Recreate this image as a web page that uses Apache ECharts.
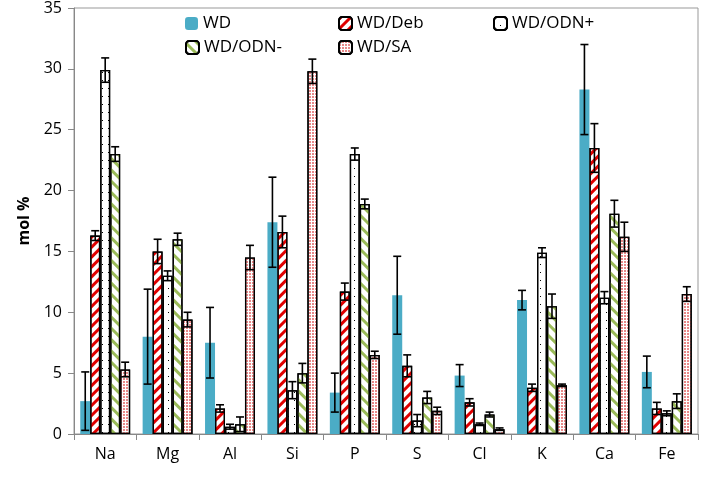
<!DOCTYPE html>
<html><head><meta charset="utf-8">
<script src="https://cdn.jsdelivr.net/npm/echarts@6/dist/echarts.min.js"></script>
<style>html,body{margin:0;background:#fff}#c{width:702px;height:477px}</style>
</head><body><div id="c"></div>
<script>
const elements = ["Na","Mg","Al","Si","P","S","Cl","K","Ca","Fe"];
const seriesNames = ["WD","WD/Deb","WD/ODN+","WD/ODN-","WD/SA"];
const wd     = [2.7, 8.0, 7.5, 17.4, 3.4, 11.4, 4.8, 11.0, 28.3, 5.1];
const wdErr  = [2.4, 3.9, 2.9, 3.7, 1.6, 3.2, 0.9, 0.8, 3.7, 1.3];
const deb    = [16.3, 15.0, 2.1, 16.6, 11.7, 5.6, 2.6, 3.8, 23.5, 2.1];
const debErr = [0.4, 1.0, 0.3, 1.3, 0.7, 0.9, 0.3, 0.3, 2.0, 0.5];
const odnP    = [29.9, 13.0, 0.6, 3.6, 23.0, 1.1, 0.8, 14.9, 11.2, 1.7];
const odnPErr = [1.0, 0.4, 0.2, 0.7, 0.5, 0.5, 0.1, 0.4, 0.5, 0.2];
const odnM    = [23.0, 16.0, 0.8, 5.0, 18.9, 3.0, 1.6, 10.5, 18.1, 2.7];
const odnMErr = [0.6, 0.5, 0.6, 0.8, 0.4, 0.5, 0.2, 1.0, 1.1, 0.6];
const sa     = [5.3, 9.4, 14.5, 29.8, 6.5, 1.9, 0.4, 4.0, 16.2, 11.5];
const saErr  = [0.6, 0.6, 1.0, 1.0, 0.3, 0.3, 0.1, 0.1, 1.2, 0.6];

const values = [wd, deb, odnP, odnM, sa];
const errors = [wdErr, debErr, odnPErr, odnMErr, saErr];

const styles = [
  {color:'#4bacc6'},
  {color:'#fff', borderColor:'#000', borderWidth:1.3,
   decal:{symbol:'rect', color:'#e00000', dashArrayX:[1,0], dashArrayY:[3,4], rotation:-Math.PI/4, symbolSize:1}},
  {color:'#fff', borderColor:'#000', borderWidth:1.3,
   decal:{symbol:'rect', color:'#000', dashArrayX:[[1,5]], dashArrayY:[1,7], symbolSize:1}},
  {color:'#fff', borderColor:'#000', borderWidth:1.3,
   decal:{symbol:'rect', color:'#9bbb59', dashArrayX:[1,0], dashArrayY:[3,5], rotation:Math.PI/4, symbolSize:1}},
  {color:'#fff', borderColor:'#000', borderWidth:1.3,
   decal:{symbol:'circle', color:'#e06060', dashArrayX:[[2,1]], dashArrayY:[2,1], symbolSize:1}}
];

const catGap = 0.2;
const series = [];
seriesNames.forEach((name, s) => {
  series.push({name, type:'bar', data: values[s], itemStyle: styles[s],
    barGap:'0%', barCategoryGap:'20%'});
});
seriesNames.forEach((name, s) => {
  series.push({
    type:'custom', name: name + ' err', silent:true, z:10,
    data: elements.map((e,i) => [i, values[s][i], errors[s][i]]),
    renderItem(params, api){
      const i = api.value(0), v = api.value(1), e = api.value(2);
      const band = api.size([1,0])[0];
      const bw = band*(1-catGap)/5;
      const dx = (s-2)*bw;
      const hi = api.coord([i, v+e]), lo = api.coord([i, Math.max(v-e,0)]);
      const x = hi[0]+dx, cap = 4;
      const st = {stroke:'#000', lineWidth:1.6};
      return {type:'group', children:[
        {type:'line', shape:{x1:x,y1:hi[1],x2:x,y2:lo[1]}, style:st},
        {type:'line', shape:{x1:x-cap,y1:hi[1],x2:x+cap,y2:hi[1]}, style:st},
        {type:'line', shape:{x1:x-cap,y1:lo[1],x2:x+cap,y2:lo[1]}, style:st}
      ]};
    }
  });
});

const legendPos = [[180,10],[333,10],[488,10],[180,34],[333,34]];
const legends = seriesNames.map((n,i) => ({
  data:[n], left:legendPos[i][0], top:legendPos[i][1], itemWidth:13, itemHeight:13,
  itemGap:6, textStyle:{fontSize:17, color:'#000', fontFamily:'Open Sans'}, selectedMode:false
}));

const chart = echarts.init(document.getElementById('c'));
chart.setOption({
  animation:false,
  legend: legends,
  grid:{left:74, right:4, top:8, bottom:43, show:true, borderColor:'#999', borderWidth:1},
  xAxis:{type:'category', data:elements,
    axisLine:{lineStyle:{color:'#888'}},
    axisTick:{show:true, length:6, lineStyle:{color:'#888'}},
    axisLabel:{fontSize:16, color:'#000', fontFamily:'Open Sans', margin:12}},
  yAxis:{type:'value', min:0, max:35, interval:5, name:'mol %', nameLocation:'middle', nameGap:40,
    nameTextStyle:{fontSize:16, fontWeight:'bold', color:'#000', fontFamily:'Open Sans'},
    axisLine:{show:true, lineStyle:{color:'#888'}},
    axisTick:{show:true, length:6, lineStyle:{color:'#888'}},
    splitLine:{show:false},
    axisLabel:{fontSize:16, color:'#000', fontFamily:'Open Sans', margin:12}},
  series
});
</script></body></html>
